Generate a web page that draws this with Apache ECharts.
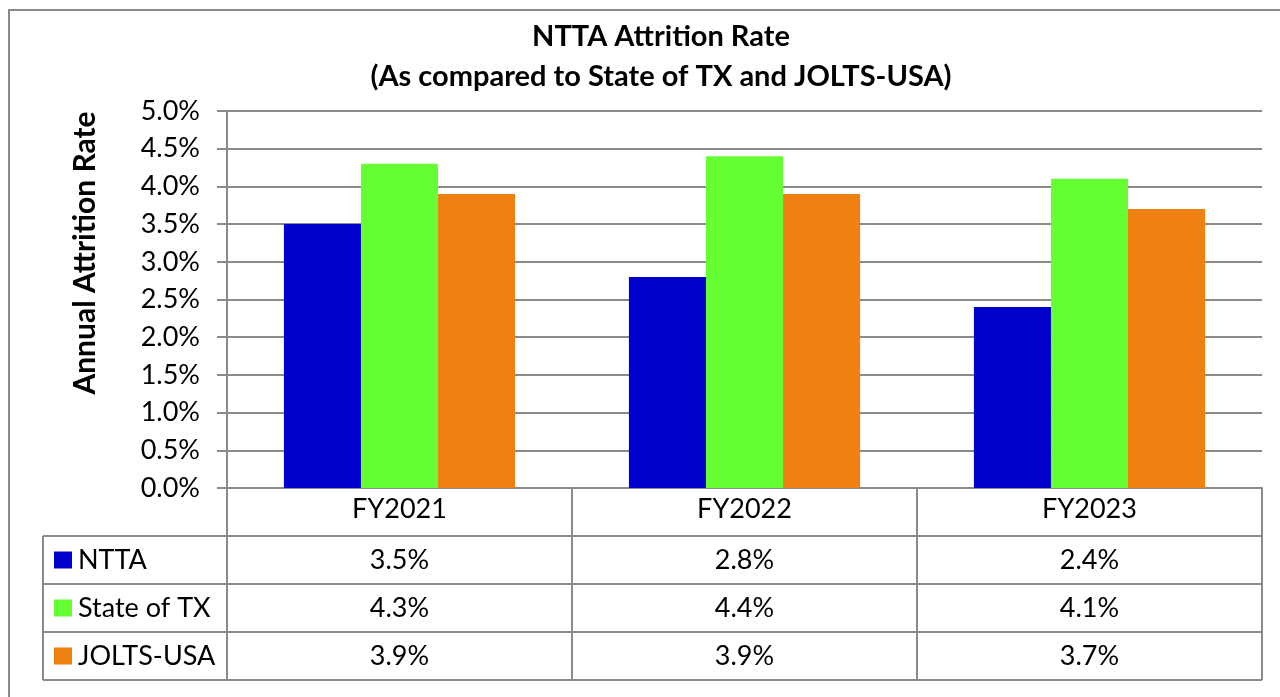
<!DOCTYPE html>
<html>
<head>
<meta charset="utf-8">
<script src="https://cdn.jsdelivr.net/npm/echarts@6/dist/echarts.min.js"></script>
<style>
html,body{margin:0;padding:0;background:#fff;}
#chart{width:1280px;height:697px;}
</style>
</head>
<body>
<div id="chart"></div>
<script>
const titleLines = ['NTTA Attrition Rate', '(As compared to State of TX and JOLTS-USA)'];
const yAxisTitle = 'Annual Attrition Rate';
const categories = ['FY2021', 'FY2022', 'FY2023'];
const seriesNames = ['NTTA', 'State of TX', 'JOLTS-USA'];
const nttaValues = [3.5, 2.8, 2.4];
const stateTxValues = [4.3, 4.4, 4.1];
const joltsValues = [3.9, 3.9, 3.7];
const yMin = 0, yMax = 5, yInterval = 0.5;

const colors = ['#0000CC', '#66FF33', '#F08010'];
const FONT = 'Lato';
const FS = 27;
const gridColor = '#8a8a8a';
const allValues = [nttaValues, stateTxValues, joltsValues];

const chart = echarts.init(document.getElementById('chart'), null, {renderer: 'canvas'});
const rowH = 48;

const option = {
  animation: false,
  backgroundColor: '#fff',
  color: colors,
  textStyle: {fontFamily: FONT},
  title: {
    text: titleLines.join('\n'),
    left: 656, top: 12,
    textAlign: 'center',
    textStyle: {fontFamily: FONT, fontSize: 29, fontWeight: 'bold', color: '#000', lineHeight: 40}
  },
  legend: {
    orient: 'vertical',
    left: 54, top: 546,
    padding: 0,
    icon: 'rect',
    itemWidth: 18, itemHeight: 17,
    itemGap: rowH - 28,
    selectedMode: false,
    data: seriesNames,
    textStyle: {fontFamily: FONT, fontSize: FS, color: '#000', lineHeight: 28, padding: [0,0,0,1]}
  },
  grid: {left: 227, right: 18, top: 111, bottom: 209, containLabel: false},
  xAxis: {
    type: 'category',
    data: categories,
    axisLine: {show: true, lineStyle: {color: gridColor, width: 2}},
    axisTick: {show: true, length: rowH * 4, lineStyle: {color: gridColor, width: 2}},
    axisLabel: {fontFamily: FONT, fontSize: FS, color: '#000', margin: 8}
  },
  yAxis: {
    type: 'value',
    min: yMin, max: yMax, interval: yInterval,
    axisLine: {show: true, lineStyle: {color: gridColor, width: 2}},
    axisTick: {show: true, length: 10, lineStyle: {color: gridColor, width: 2}},
    splitLine: {show: true, lineStyle: {color: gridColor, width: 2}},
    axisLabel: {fontFamily: FONT, fontSize: FS, color: '#000', margin: 27,
      formatter: v => v.toFixed(1) + '%'}
  },
  series: seriesNames.map((n, i) => ({
    name: n, type: 'bar', data: allValues[i],
    barGap: '0%', barCategoryGap: '33%',
    itemStyle: {color: colors[i]}
  }))
};
chart.setOption(option);

function buildGraphics() {
  const y0 = chart.convertToPixel({yAxisIndex: 0}, 0);
  const xRight = 1280 - 18;
  const tableLeft = 43;
  const els = [];
  els.push({type: 'rect', shape: {x: 9, y: 10, width: 1300, height: 720},
    style: {fill: 'none', stroke: gridColor, lineWidth: 2}, z: 10});
  for (let r = 1; r <= 4; r++) {
    const y = y0 + r * rowH;
    els.push({type: 'line', shape: {x1: tableLeft, y1: y, x2: xRight, y2: y},
      style: {stroke: gridColor, lineWidth: 2}, z: 10});
  }
  els.push({type: 'line', shape: {x1: tableLeft, y1: y0 + rowH, x2: tableLeft, y2: y0 + 4 * rowH},
    style: {stroke: gridColor, lineWidth: 2}, z: 10});
  allValues.forEach((vals, r) => {
    vals.forEach((v, i) => {
      const cx = chart.convertToPixel({xAxisIndex: 0}, categories[i]);
      els.push({type: 'text', x: cx, y: y0 + (r + 1.5) * rowH,
        style: {text: v.toFixed(1) + '%', fontFamily: FONT, fontSize: FS, fill: '#000',
          align: 'center', verticalAlign: 'middle'}, z: 10});
    });
  });
  els.push({type: 'text', x: 85, y: 253, rotation: Math.PI / 2,
    style: {text: yAxisTitle, fontFamily: FONT, fontSize: 30, fontWeight: 'bold', fill: '#000',
      align: 'center', verticalAlign: 'middle'}, z: 10});
  chart.setOption({graphic: els});
}
buildGraphics();
</script>
</body>
</html>
